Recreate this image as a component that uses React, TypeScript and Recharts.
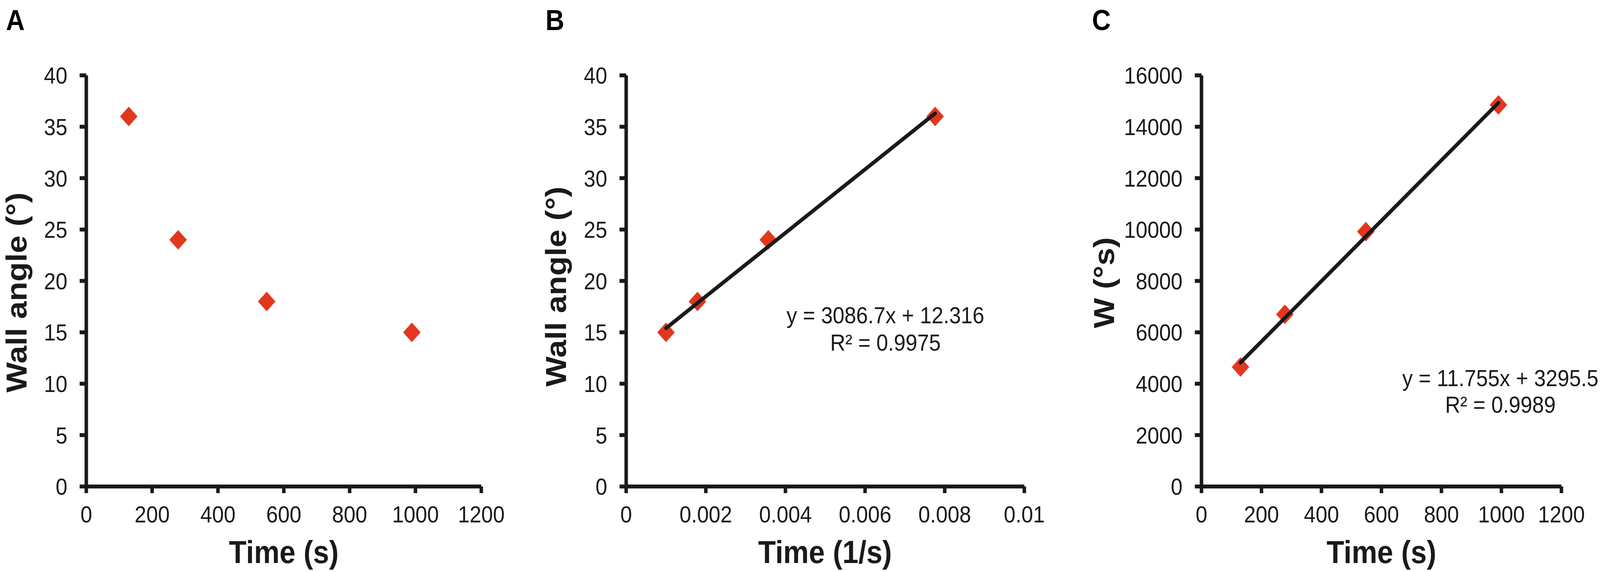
import { ScatterChart, Scatter, XAxis, YAxis } from "recharts";

// panel A: wall angle vs time
const timeA = [129, 279, 548, 989];
const angleA = [36, 24, 18, 15];

// panel B: wall angle vs 1/time, with linear fit
const invTimeB = [0.00776, 0.00357, 0.00179, 0.001];
const angleB = [36, 24, 18, 15];
const fitXB = [0.001, 0.00776];
const fitYB = [15.4, 36.3];

// panel C: W vs time, with linear fit
const timeC = [130, 278, 548, 990];
const workC = [4650, 6700, 9920, 14850];
const fitXC = [130, 990];
const fitYC = [4820, 14930];

const angleTicks = [0, 5, 10, 15, 20, 25, 30, 35, 40];
const timeTicks = [0, 200, 400, 600, 800, 1000, 1200];
const invTimeTicks = [0, 0.002, 0.004, 0.006, 0.008, 0.01];
const workTicks = [0, 2000, 4000, 6000, 8000, 10000, 12000, 14000, 16000];

const FONT = "'Liberation Sans', Arial, Helvetica, sans-serif";
const INK = "#1a1a1a";
const RED = "#E2371D";

// the figure is laid out at 4561 wide; the browser viewport is narrower,
// so the whole thing is squeezed horizontally to fit
const FIG_W = 4561;
const FIG_H = 1465;
const VIEW_W = 4096;

const TICK = { fontSize: 60, fill: INK, fontFamily: FONT };
const AXIS = { stroke: INK, strokeWidth: 10 };

const zip = (xs: number[], ys: number[]) => xs.map((x, i) => ({ x, y: ys[i] }));

function Diamond(props: any) {
  const { cx, cy } = props;
  const r = 25;
  return (
    <polygon
      points={`${cx},${cy - r} ${cx + r},${cy} ${cx},${cy + r} ${cx - r},${cy}`}
      fill={RED}
    />
  );
}

const NoDot = () => <g />;

interface PanelProps {
  left: number;
  width: number;
  yAxisWidth: number;
  marginRight: number;
  xDomain: [number, number];
  xTicks: number[];
  yDomain: [number, number];
  yTicks: number[];
  points: { x: number; y: number }[];
  fit?: { x: number; y: number }[];
}

function Panel({
  left,
  width,
  yAxisWidth,
  marginRight,
  xDomain,
  xTicks,
  yDomain,
  yTicks,
  points,
  fit,
}: PanelProps) {
  return (
    <div style={{ position: "absolute", left, top: 0 }}>
      <ScatterChart
        width={width}
        height={FIG_H}
        margin={{ top: 193, right: marginRight, bottom: 0, left: 0 }}
      >
        <XAxis
          type="number"
          dataKey="x"
          domain={xDomain}
          ticks={xTicks}
          interval={0}
          height={219}
          tickSize={17}
          tickMargin={32}
          tick={TICK}
          axisLine={AXIS}
          tickLine={AXIS}
          allowDataOverflow
        />
        <YAxis
          type="number"
          dataKey="y"
          domain={yDomain}
          ticks={yTicks}
          interval={0}
          width={yAxisWidth}
          tickSize={19}
          tickMargin={35}
          tick={TICK}
          axisLine={AXIS}
          tickLine={AXIS}
          allowDataOverflow
        />
        <Scatter data={points} shape={Diamond} isAnimationActive={false} />
        {fit && (
          <Scatter
            data={fit}
            line={{ stroke: INK, strokeWidth: 10, strokeLinecap: "round" }}
            shape={NoDot}
            isAnimationActive={false}
          />
        )}
      </ScatterChart>
    </div>
  );
}

function YTitle({ x, y, text }: { x: number; y: number; text: string }) {
  return (
    <text
      x={x}
      y={y}
      transform={`rotate(-90, ${x}, ${y})`}
      textAnchor="middle"
      fontFamily={FONT}
      fontWeight="bold"
      fontSize={82}
      fill={INK}
    >
      {text}
    </text>
  );
}

function XTitle({ x, text }: { x: number; text: string }) {
  return (
    <text
      x={x}
      y={1442}
      textAnchor="middle"
      fontFamily={FONT}
      fontWeight="bold"
      fontSize={82}
      fill={INK}
    >
      {text}
    </text>
  );
}

function Note({ x, y, text }: { x: number; y: number; text: string }) {
  return (
    <text x={x} y={y} textAnchor="middle" fontFamily={FONT} fontSize={60} fill={INK}>
      {text}
    </text>
  );
}

function Letter({ x, text }: { x: number; text: string }) {
  return (
    <text x={x} y={77} fontFamily={FONT} fontWeight="bold" fontSize={74} fill="#000">
      {text}
    </text>
  );
}

export default function App() {
  return (
    <div
      style={{
        position: "absolute",
        left: 0,
        top: 0,
        width: VIEW_W,
        height: FIG_H,
        overflow: "hidden",
        background: "#fff",
      }}
    >
      <div
        style={{
          position: "absolute",
          left: 0,
          top: 0,
          width: FIG_W,
          height: FIG_H,
          transform: `scale(${VIEW_W / FIG_W}, 1)`,
          transformOrigin: "0 0",
        }}
      >
        <Panel
          left={0}
          width={1460}
          yAxisWidth={246}
          marginRight={88}
          xDomain={[0, 1200]}
          xTicks={timeTicks}
          yDomain={[0, 40]}
          yTicks={angleTicks}
          points={zip(timeA, angleA)}
        />
        <Panel
          left={1500}
          width={1500}
          yAxisWidth={285}
          marginRight={80}
          xDomain={[0, 0.01]}
          xTicks={invTimeTicks}
          yDomain={[0, 40]}
          yTicks={angleTicks}
          points={zip(invTimeB, angleB)}
          fit={zip(fitXB, fitYB)}
        />
        <Panel
          left={3050}
          width={1511}
          yAxisWidth={375}
          marginRight={110}
          xDomain={[0, 1200]}
          xTicks={timeTicks}
          yDomain={[0, 16000]}
          yTicks={workTicks}
          points={zip(timeC, workC)}
          fit={zip(fitXC, fitYC)}
        />
        <svg
          width={FIG_W}
          height={FIG_H}
          style={{ position: "absolute", left: 0, top: 0, pointerEvents: "none" }}
        >
          <Letter x={17} text="A" />
          <Letter x={1555} text="B" />
          <Letter x={3113} text="C" />

          <YTitle x={76} y={749} text="Wall angle (°)" />
          <YTitle x={1614} y={734} text="Wall angle (°)" />
          <YTitle x={3176} y={724} text="W (°s)" />

          <XTitle x={809} text="Time (s)" />
          <XTitle x={2352} text="Time (1/s)" />
          <XTitle x={3938} text="Time (s)" />

          <Note x={2524} y={828} text="y = 3086.7x + 12.316" />
          <Note x={2524} y={898} text="R² = 0.9975" />
          <Note x={4277} y={989} text="y = 11.755x + 3295.5" />
          <Note x={4277} y={1057} text="R² = 0.9989" />
        </svg>
      </div>
    </div>
  );
}
